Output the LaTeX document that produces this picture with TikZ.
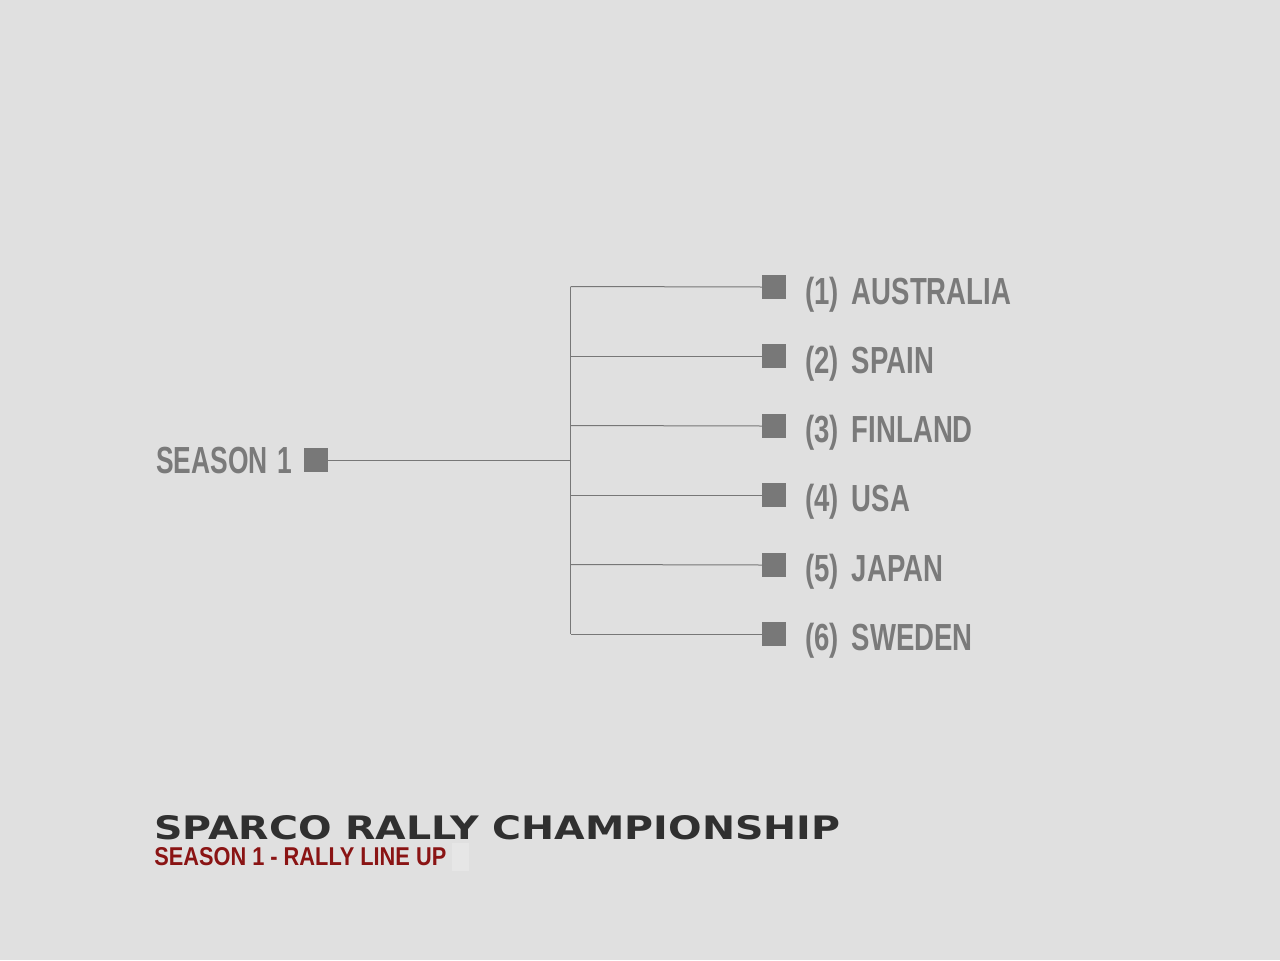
\documentclass[tikz,border=0pt]{standalone}
\usepackage{fontspec}
\setmainfont{Liberation Sans}
\newfontfamily\condfont{Liberation Sans}[FakeStretch=0.73]
\newfontfamily\condfontb{Liberation Sans}[FakeStretch=0.70]
\newfontfamily\condfontsub{Liberation Sans}[FakeStretch=0.62]
\newfontfamily\heavyfont{DejaVu Sans}
\definecolor{bg}{HTML}{E0E0E0}
\definecolor{boxgray}{HTML}{787878}
\definecolor{txtgray}{HTML}{7A7A7A}
\definecolor{linegray}{HTML}{777777}
\definecolor{titledark}{HTML}{303030}
\definecolor{subred}{HTML}{8A1414}
\definecolor{ghost}{HTML}{E6E6E6}
\newcommand{\numbox}[1]{\makebox[35pt][l]{#1}}
\tikzset{
  sq/.style={draw=none, fill=boxgray, minimum width=18pt, minimum height=18pt, inner sep=0pt, outer sep=0pt},
  lbl/.style={text=txtgray, inner sep=0pt, anchor=base west, font=\condfont\bfseries\fontsize{28.3pt}{30pt}\selectfont},
  conn/.style={draw=linegray, line width=0.75pt}
}
\begin{document}
\begin{tikzpicture}[x=0.75pt, y=-0.75pt]
\fill[bg] (0,0) rectangle (1280,960);
\useasboundingbox (0,0) rectangle (1280,960);

% root
\node[sq] (s0) at (316,460) {};
\node[text=txtgray, inner sep=0pt, anchor=base east, font=\condfontb\bfseries\fontsize{28.3pt}{30pt}\selectfont] (season) at (292,473) {SEASON\hspace{7pt}1};

% junction
\coordinate (j) at (570.5,460);
\coordinate (b1) at (570.5,286.5);
\coordinate (b2) at (570.5,356);
\coordinate (b3) at (570.5,425.5);
\coordinate (b4) at (570.5,495);
\coordinate (b5) at (570.5,564.5);
\coordinate (b6) at (570.5,634);

% leaves
\node[sq] (c1) at (774,287) {};
\node[sq] (c2) at (774,356) {};
\node[sq] (c3) at (774,426) {};
\node[sq] (c4) at (774,495) {};
\node[sq] (c5) at (774,565) {};
\node[sq] (c6) at (774,634) {};

\node[lbl] (l1) at (805,304) {\numbox{(1)}AUSTRALIA};
\node[lbl] (l2) at (805,373) {\numbox{(2)}SPAIN};
\node[lbl] (l3) at (805,442) {\numbox{(3)}FINLAND};
\node[lbl] (l4) at (805,511) {\numbox{(4)}USA};
\node[lbl] (l5) at (805,581) {\numbox{(5)}JAPAN};
\node[lbl] (l6) at (805,650) {\numbox{(6)}SWEDEN};

% connectors
\draw[conn] (s0.east) -- (j);
\draw[conn] (b1) -- (b6);
\foreach \i in {1,...,6} { \draw[conn] (b\i) -- (c\i.west); }

% footer
\node[inner sep=0pt, anchor=south west, text=titledark] (title) at (154,840)
  {\resizebox{514.5pt}{18pt}{\heavyfont\bfseries SPARCO RALLY CHAMPIONSHIP}};
\node[inner sep=0pt, anchor=south west, text=subred] (sub) at (154,866)
  {\resizebox{219pt}{13.5pt}{\condfontsub\bfseries SEASON 1 - RALLY LINE UP}};
\node[fill=ghost, draw=none, inner sep=0pt, minimum width=12.75pt, minimum height=21pt, anchor=north west] (ghostbox) at (452,843) {};
\end{tikzpicture}
\end{document}
